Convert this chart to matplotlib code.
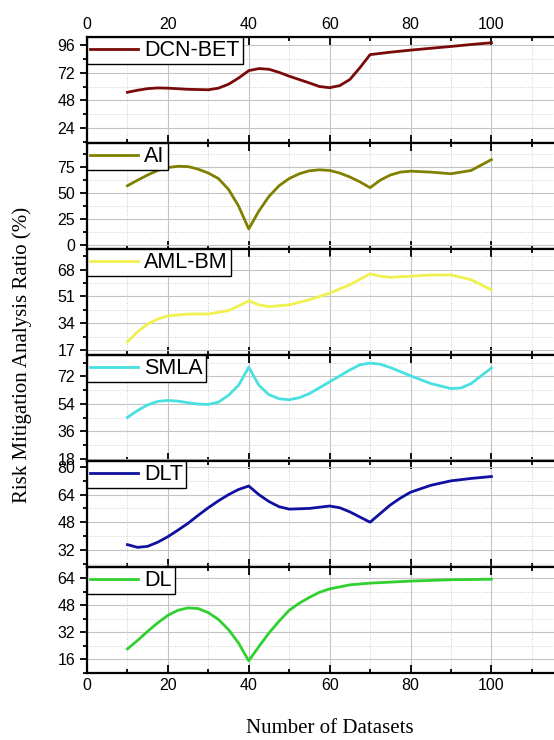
import matplotlib.pyplot as plt
from matplotlib.ticker import FixedLocator, MultipleLocator

# --- data ---
x_dcn = [10, 12.5, 15, 17.5, 20, 25, 30, 32.5, 35, 37.5, 40, 42.5, 45, 47.5, 50, 55, 57.5, 60, 62.5, 65, 67.5, 70, 75, 80, 90, 95, 100]
dcn_bet = [55.0, 56.8, 58.2, 58.8, 58.6, 57.6, 57.2, 58.6, 62.0, 67.4, 73.8, 75.6, 75.0, 72.3, 69.0, 63.1, 60.0, 59.0, 60.8, 66.1, 76.4, 87.7, 89.8, 91.6, 94.8, 96.5, 98.0]

x_ai = [10, 12.5, 15, 17.5, 20, 22.5, 25, 27.5, 30, 32.5, 35, 37.5, 40, 42.5, 45, 47.5, 50, 52.5, 55, 57.5, 60, 62.5, 65, 67.5, 70, 72.5, 75, 77.5, 80, 85, 90, 95, 100]
ai = [56.9, 62.2, 67.2, 71.6, 74.4, 75.6, 75.3, 72.8, 69.1, 63.8, 53.4, 37.2, 15.3, 32.5, 46.6, 56.9, 63.8, 68.4, 71.3, 72.2, 71.6, 69.1, 65.3, 60.6, 55.0, 62.2, 67.2, 70.0, 70.9, 70.0, 68.4, 71.6, 82.0]

x_aml = [10, 12.5, 15, 17.5, 20, 25, 30, 35, 37.5, 40, 42.5, 45, 50, 55, 60, 65, 70, 72.5, 75, 80, 85, 90, 95, 100]
aml_bm = [22.3, 28.7, 33.6, 36.7, 38.7, 39.9, 39.9, 42.1, 45.0, 48.2, 45.7, 44.6, 45.7, 48.9, 53.1, 58.4, 65.3, 63.8, 63.1, 63.8, 64.6, 64.6, 61.6, 55.2]

x_smla = [10, 12.5, 15, 17.5, 20, 22.5, 25, 27.5, 30, 32.5, 35, 37.5, 40, 42.5, 45, 47.5, 50, 52.5, 55, 60, 65, 67.5, 70, 72.5, 75, 80, 85, 90, 92.5, 95, 100]
smla = [45.1, 49.6, 53.3, 55.6, 56.2, 55.8, 54.7, 53.8, 53.6, 55.1, 59.6, 66.2, 78.0, 66.2, 60.0, 57.3, 56.7, 58.0, 60.7, 68.4, 76.2, 79.6, 80.7, 80.0, 77.8, 72.4, 67.3, 64.0, 64.4, 67.3, 77.5]

x_dlt = [10, 12.5, 15, 17.5, 20, 22.5, 25, 27.5, 30, 32.5, 35, 37.5, 40, 42.5, 45, 47.5, 50, 55, 60, 62.5, 65, 67.5, 70, 72.5, 75, 77.5, 80, 85, 90, 95, 100]
dlt = [35.0, 33.4, 34.0, 36.4, 39.6, 43.4, 47.4, 52.0, 56.4, 60.4, 64.0, 67.0, 69.0, 64.0, 60.0, 57.0, 55.6, 56.0, 57.4, 56.4, 54.0, 51.0, 48.0, 53.0, 58.0, 62.0, 65.4, 69.4, 72.0, 73.4, 74.5]

x_dl = [10, 12.5, 15, 17.5, 20, 22.5, 25, 27.5, 30, 32.5, 35, 37.5, 40, 42.5, 45, 47.5, 50, 52.5, 55, 57.5, 60, 65, 70, 80, 90, 100]
dl = [22.2, 27.2, 32.6, 37.6, 42.0, 45.0, 46.4, 46.0, 43.6, 39.6, 33.6, 25.6, 15.2, 23.6, 31.6, 38.6, 45.0, 49.2, 52.6, 55.6, 57.6, 60.0, 61.0, 62.2, 63.0, 63.3]

names = ['DCN-BET', 'AI', 'AML-BM', 'SMLA', 'DLT', 'DL']
colors = ['#7a0a0a', '#808000', '#f0f050', '#48e0e0', '#1010a0', '#30d030']
xs = [x_dcn, x_ai, x_aml, x_smla, x_dlt, x_dl]
ys = [dcn_bet, ai, aml_bm, smla, dlt, dl]
ylims = [(11, 103), (-4, 98), (14, 81), (16.5, 86), (22, 83.5), (8, 70.5)]
ysteps = [24, 25, 17, 18, 16, 16]

plt.rcParams['font.family'] = ['Liberation Sans', 'DejaVu Sans']

fig = plt.figure(figsize=(5.54, 7.4), dpi=100)
gs = fig.add_gridspec(6, 1, left=0.157, right=1.033, top=0.95, bottom=0.0905, hspace=0)

n = len(names)
for i in range(n):
    ax = fig.add_subplot(gs[i])
    ax.plot(xs[i], ys[i], color=colors[i], lw=2, label=names[i], zorder=3,
            solid_joinstyle='round')
    ax.set_xlim(0, 120)
    ax.set_ylim(*ylims[i])
    ax.xaxis.set_major_locator(FixedLocator([0, 20, 40, 60, 80, 100]))
    ax.xaxis.set_minor_locator(FixedLocator([10, 30, 50, 70, 90, 110]))
    ax.yaxis.set_major_locator(MultipleLocator(ysteps[i]))
    ax.yaxis.set_minor_locator(MultipleLocator(ysteps[i] / 2))
    ax.grid(which='major', color='#c4c4c4', lw=0.8, ls='-', zorder=0)
    ax.grid(which='minor', color='#cfcfcf', lw=0.7, ls=':', zorder=0)
    ax.tick_params(axis='x', which='both', direction='in', top=True, bottom=True,
                   labeltop=(i == 0), labelbottom=(i == n - 1),
                   labelsize=11.5, width=1.3)
    ax.tick_params(axis='x', which='major', length=6)
    ax.tick_params(axis='x', which='minor', length=3)
    ax.tick_params(axis='y', which='both', direction='out', labelsize=11.5, width=1.3)
    ax.tick_params(axis='y', which='major', length=5)
    ax.tick_params(axis='y', which='minor', length=3)
    for sp in ax.spines.values():
        sp.set_linewidth(1.6)
    leg = ax.legend(loc='upper left', fontsize=15.5, frameon=True, fancybox=False,
                    borderaxespad=0, borderpad=0.15, handlelength=2.2,
                    handletextpad=0.3, edgecolor='black', framealpha=1)
    leg.get_frame().set_linewidth(1.0)
    if i == n - 1:
        ax.set_xlabel('Number of Datasets', family='Liberation Serif', fontsize=15, labelpad=19)

fig.text(0.04, 0.52, 'Risk Mitigation Analysis Ratio (%)', family='Liberation Serif',
         fontsize=15, rotation=90, ha='center', va='center')

plt.savefig('out.png', dpi=100)
